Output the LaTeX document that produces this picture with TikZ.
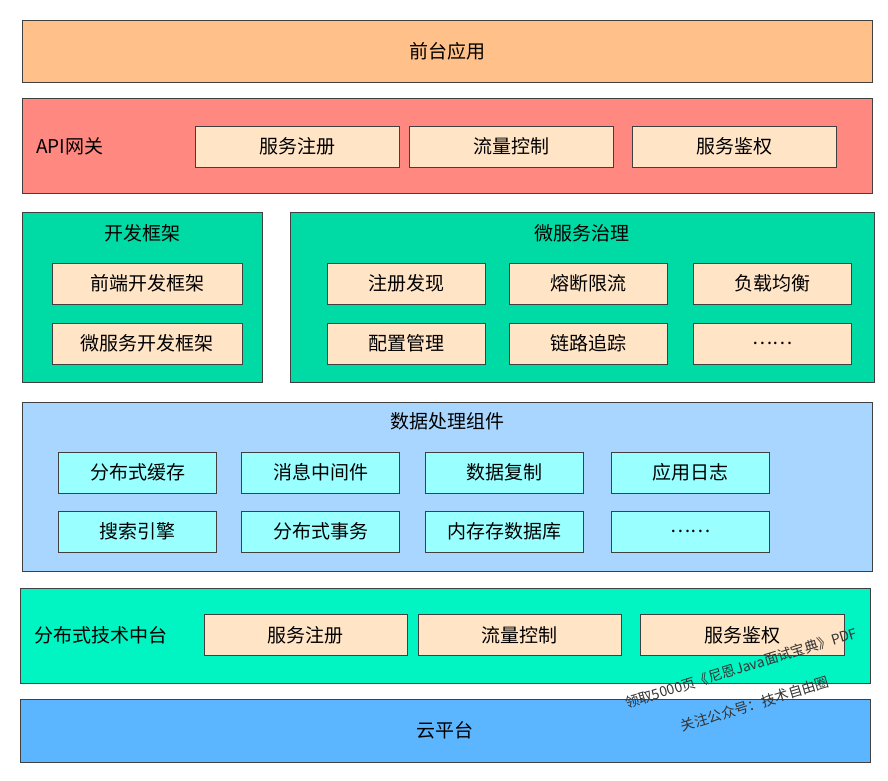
\documentclass[tikz,border=0pt]{standalone}
\usepackage{fontspec}
\setmainfont{Noto Sans CJK SC}
\usetikzlibrary{positioning}
\definecolor{cFront}{HTML}{FFC08A}
\definecolor{cGate}{HTML}{FF8880}
\definecolor{cTeal}{HTML}{00DBA6}
\definecolor{cData}{HTML}{A9D6FF}
\definecolor{cMid}{HTML}{00F5C2}
\definecolor{cCloud}{HTML}{5CB6FF}
\definecolor{cItem}{HTML}{FFE4C6}
\definecolor{cCyan}{HTML}{99FFFF}
\begin{document}
\begin{tikzpicture}[x=1pt,y=-1pt,
   font=\fontsize{19}{22}\selectfont,
   layer/.style={draw=black!75,anchor=north west,inner sep=0pt},
   item/.style={draw=black!75,fill=cItem,minimum width=#1,minimum height=41pt,inner sep=0pt},
   item/.default=158pt,
   data/.style={item=158pt,fill=cCyan},
   title/.style={inner sep=0pt},
   wmark/.style={font=\fontsize{14}{16}\selectfont,rotate=17,text=black!80}]
\useasboundingbox (0,0) rectangle (888,781);
% layers
\node[layer,fill=cFront,minimum width=850pt,minimum height=62pt] (front) at (22,20) {};
\node[title] at (front.center) {前台应用};
\node[layer,fill=cGate,minimum width=850pt,minimum height=95pt] (gate) at (22,98) {};
\node[title,anchor=west] (gatet) at (36,146) {API网关};
\node[item=204pt] (g1) at (297,146.5) {服务注册};
\node[item=204pt] (g2) at (511.5,146.5) {流量控制};
\node[item=204pt] (g3) at (734,146.5) {服务鉴权};
\node[layer,fill=cTeal,minimum width=240pt,minimum height=170pt] (dev) at (22,212) {};
\node[title] (devt) at (142,233) {开发框架};
\node[item=190pt] (d1) at (147,283.5) {前端开发框架};
\node[item=190pt] (d2) at (147,343.5) {微服务开发框架};
\node[layer,fill=cTeal,minimum width=584pt,minimum height=170pt] (gov) at (290,212) {};
\node[title] (govt) at (582,233) {微服务治理};
\node[item] (m1) at (406,283.5) {注册发现};
\node[item] (m2) at (588,283.5) {熔断限流};
\node[item] (m3) at (772.5,283.5) {负载均衡};
\node[item] (m4) at (406,343.5) {配置管理};
\node[item] (m5) at (588,343.5) {链路追踪};
\node[item] (m6) at (772.5,343.5) {……};
\node[layer,fill=cData,minimum width=850pt,minimum height=169pt] (data) at (22,402) {};
\node[title] (datat) at (447,421) {数据处理组件};
\node[data] (s1) at (137.5,472.5) {分布式缓存};
\node[data] (s2) at (320.5,472.5) {消息中间件};
\node[data] (s3) at (504.5,472.5) {数据复制};
\node[data] (s4) at (690.5,472.5) {应用日志};
\node[data] (s5) at (137.5,531.5) {搜索引擎};
\node[data] (s6) at (320.5,531.5) {分布式事务};
\node[data] (s7) at (504.5,531.5) {内存存数据库};
\node[data] (s8) at (690.5,531.5) {……};
\node[layer,fill=cMid,minimum width=850pt,minimum height=95pt] (mid) at (20,588) {};
\node[title,anchor=west] (midt) at (34,635) {分布式技术中台};
\node[item=203pt] (t1) at (305.5,635) {服务注册};
\node[item=203pt] (t2) at (519.5,635) {流量控制};
\node[item=204pt] (t3) at (742,635) {服务鉴权};
\node[layer,fill=cCloud,minimum width=850pt,minimum height=63pt] (cloud) at (20,699) {};
\node[title] at (cloud.center) {云平台};
% watermark
\node[wmark] (w1) at (741,668) {领取5000页《尼恩Java面试宝典》PDF};
\node[wmark] (w2) at (755,704) {关注公众号：技术自由圈};
\end{tikzpicture}
\end{document}
